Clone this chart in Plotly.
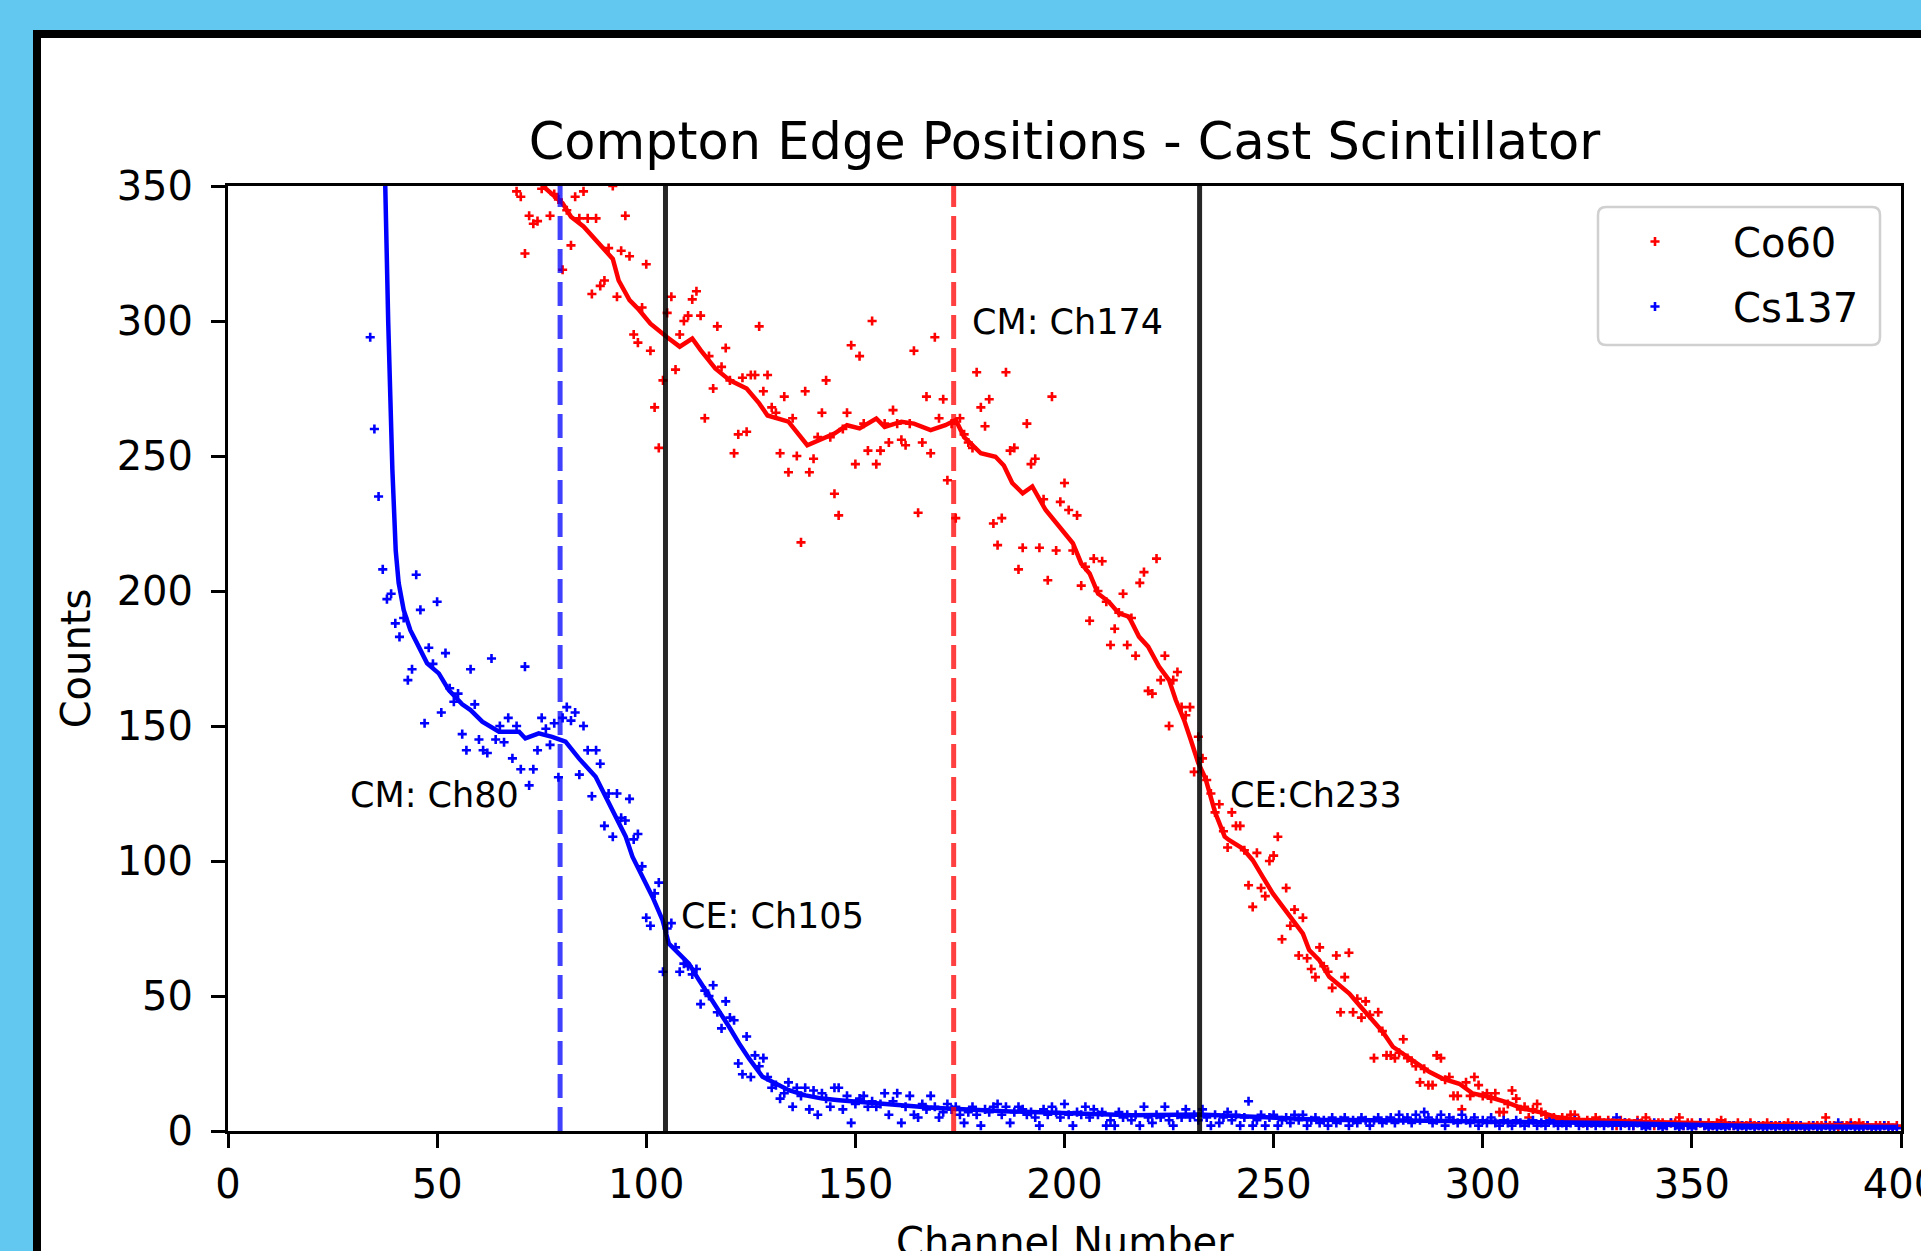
import plotly.graph_objects as go

# ---------------- data ----------------
co60_channels = list(range(69, 400))
co60_counts = [
    348, 346, 325, 339, 336, 337, 349, 351, 339, 347,
    345, 319, 341, 328, 346, 338, 348, 338, 310, 338,
    313, 315, 327, 350, 309, 326, 339, 324, 295, 292,
    305, 321, 289, 268, 253, 278, 303, 309, 282, 295,
    300, 302, 308, 311, 302, 264, 287, 275, 298, 283,
    290, 278, 251, 258, 279, 259, 280, 280, 298, 274,
    280, 268, 266, 251, 272, 244, 264, 250, 218, 274,
    244, 249, 257, 266, 278, 257, 236, 228, 260, 266,
    291, 247, 287, 262, 252, 300, 247, 252, 262, 255,
    267, 262, 256, 254, 262, 289, 229, 255, 272, 251,
    294, 264, 271, 241, 262, 227, 264, 258, 255, 253,
    281, 268, 261, 271, 225, 217, 227, 281, 252, 253,
    208, 216, 262, 247, 249, 216, 234, 204, 272, 215,
    233, 240, 230, 215, 228, 202, 209, 189, 212, 200,
    211, 196, 180, 186, 192, 199, 180, 190, 176, 203,
    207, 163, 162, 212, 167, 176, 150, 167, 170, 157,
    154, 157, 133, 146, 138, 130, 125, 118, 121, 111,
    105, 118, 113, 113, 104, 91, 83, 103, 90, 87,
    100, 102, 109, 71, 90, 76, 82, 65, 79, 64,
    60, 57, 68, 61, 59, 53, 65, 44, 57, 66,
    44, 49, 42, 48, 43, 27, 44, 37, 28, 28,
    27, 29, 34, 27, 26, 24, 18, 23, 17, 17,
    28, 27, 19, 20, 13, 13, 8, 18, 13, 20,
    17, 13, 14, 12, 14, 7, 7, 10, 15, 12,
    8, 9, 5, 8, 10, 7, 6, 5, 5, 4,
    5, 4, 6, 6, 4, 3, 4, 3, 5, 4,
    3, 4, 3, 2, 4, 3, 3, 2, 4, 3,
    5, 3, 2, 3, 3, 2, 3, 3, 5, 2,
    3, 3, 2, 3, 2, 3, 2, 3, 4, 3,
    2, 2, 3, 2, 2, 3, 2, 2, 2, 3,
    2, 2, 2, 2, 3, 2, 2, 2, 1, 2,
    2, 2, 2, 5, 2, 2, 1, 2, 2, 3,
    2, 3, 2, 2, 1, 2, 2, 2, 2, 1, 2,
]

cs137_channels = list(range(34, 400))
cs137_counts = [
    294, 260, 235, 208, 197, 199, 188, 183, 190, 167,
    171, 206, 193, 151, 179, 173, 196, 155, 177, 164,
    159, 162, 147, 141, 171, 158, 145, 141, 140, 175,
    145, 150, 144, 153, 138, 150, 134, 172, 128, 134,
    141, 153, 149, 143, 151, 131, 153, 157, 152, 155,
    132, 150, 141, 124, 141, 136, 113, 125, 109, 125,
    116, 115, 123, 108, 110, 98, 79, 76, 88, 92,
    59, 75, 77, 68, 59, 62, 61, 58, 60, 47,
    52, 50, 54, 44, 38, 48, 42, 41, 25, 21,
    35, 20, 28, 24, 27, 20, 16, 17, 12, 14,
    18, 9, 16, 13, 16, 8, 15, 6, 14, 12,
    9, 16, 16, 8, 13, 3, 10, 12, 13, 9,
    11, 9, 10, 14, 6, 11, 14, 3, 9, 13,
    6, 5, 10, 8, 13, 9, 5, 7, 10, 8,
    9, 6, 3, 7, 9, 6, 2, 8, 7, 9,
    10, 6, 9, 3, 7, 9, 8, 6, 7, 5,
    2, 8, 6, 9, 7, 5, 10, 6, 2, 7,
    6, 9, 5, 8, 6, 7, 2, 4, 2, 7,
    5, 6, 4, 6, 2, 9, 5, 3, 6, 5,
    9, 4, 2, 6, 5, 8, 5, 6, 4, 8,
    5, 2, 6, 3, 5, 7, 4, 6, 2, 5,
    11, 2, 4, 6, 2, 5, 6, 2, 4, 5,
    3, 6, 4, 6, 2, 4, 5, 3, 4, 2,
    5, 3, 4, 5, 2, 4, 3, 5, 4, 2,
    4, 5, 3, 4, 5, 3, 6, 4, 5, 3,
    6, 4, 7, 5, 3, 4, 6, 2, 5, 4,
    3, 6, 4, 3, 5, 2, 4, 3, 5, 3,
    2, 4, 3, 2, 4, 3, 2, 3, 4, 2,
    3, 2, 4, 3, 2, 3, 2, 3, 4, 2,
    3, 2, 3, 2, 3, 2, 3, 2, 5, 2,
    3, 2, 2, 3, 2, 1, 2, 3, 2, 1,
    2, 3, 2, 1, 2, 2, 1, 2, 3, 2,
    1, 2, 1, 2, 1, 2, 2, 1, 2, 1,
    2, 1, 2, 1, 1, 2, 1, 2, 1, 1,
    2, 1, 2, 1, 1, 2, 1, 1, 2, 1,
    1, 3, 1, 1, 2, 1, 1, 1, 2, 1,
    1, 1, 2, 1, 1, 1,
]

co60_smooth_x = [74, 76, 80, 82, 85, 88, 92, 93.4, 96, 98, 101, 105, 108, 111, 113, 116.5,
                 120, 124, 127, 129, 134, 138.5, 142, 145, 148, 151, 155, 157, 161, 164,
                 168, 171.5, 174, 176, 180, 183.5, 185.5, 187.5, 190, 192.3, 195.5, 199.5,
                 202, 204, 206, 208, 210.6, 213, 215.4, 217.8, 220, 222.6, 225, 226.6,
                 228.6, 230.2, 232, 233.7, 236, 238.3, 239.4, 242.6, 245, 247.4, 249.8,
                 252.2, 254.6, 257, 258.5, 260.9, 263.3, 265.7, 268.1, 270.5, 272.9,
                 276.1, 278.5, 280.9, 284, 287.2, 290.4, 294.4, 297.6, 301.6, 305.6,
                 309.6, 313.6, 317.5, 323.1, 329.5, 339, 351, 364, 387, 399]
co60_smooth_y = [353, 349, 343.6, 338.6, 335, 330, 323, 315, 307.7, 304.6, 299, 294, 290.5,
                 293.5, 289.2, 282.4, 278, 275, 269.5, 265, 262.7, 254, 256.5, 258.3, 261.4,
                 260.2, 263.9, 260.8, 262.7, 262, 259.6, 261.4, 263.3, 257, 251, 249.7,
                 246.5, 240, 236.2, 238.7, 230, 222.6, 217.7, 210.2, 206.5, 199.1, 196,
                 191.7, 190.5, 183.1, 179.4, 172, 167, 159.6, 152.2, 144.8, 136.2, 130.6,
                 118, 109, 107.7, 104.6, 100.3, 94.1, 88, 83, 78.1, 73.1, 67, 63.3, 57.1,
                 54, 50.9, 46.6, 42.3, 36.7, 31.2, 28.7, 25, 21.9, 19.4, 17.5, 13.9, 12.6,
                 10.7, 8.3, 7, 5.2, 4.2, 3.7, 3.3, 3, 2.5, 2.1, 2]

cs137_smooth_x = [37.0, 37.3, 37.6, 38.3, 38.9, 39.3, 40.1, 40.8, 42, 43.6, 45.6, 47.6, 50.4,
                  52.8, 56, 58, 60.8, 64.8, 69.6, 71.1, 74.3, 77.5, 80.7, 83.9, 87.9, 90.3,
                  92.7, 95.1, 96.7, 99.1, 101.5, 103.9, 105.4, 107.8, 110.2, 112.6, 115,
                  117.4, 119.8, 122.2, 124.6, 127.8, 131, 134.1, 138.1, 142.1, 146.1,
                  152.4, 168.4, 184.3, 200.3, 216.2, 232.2, 248.1, 261.4, 286, 310, 330,
                  350, 370, 399]
cs137_smooth_y = [420, 380, 350, 300, 262, 245, 215, 203, 193, 185.5, 179.4, 173.2, 169.5,
                  163.3, 158, 155.9, 151.6, 147.9, 147.9, 145.4, 147.3, 146, 144.2, 138,
                  131.2, 123.8, 116.4, 109, 101.6, 94.1, 86.7, 78.1, 69.4, 65.7, 62, 55.9,
                  50.3, 44.7, 38.6, 32.4, 26.8, 20.1, 17.6, 15.1, 13.2, 12, 11.4, 10.7,
                  8.6, 7.4, 6.4, 5.8, 6.1, 5.2, 4.2, 3.8, 3.5, 3.0, 2.3, 1.8, 1.5]

# marked channels (vertical reference lines)
cm_cs137 = 79.4
ce_cs137 = 104.6
cm_co60 = 173.5
ce_co60 = 232.3

labels = ["CM: Ch80", "CE: Ch105", "CM: Ch174", "CE:Ch233"]
label_x = [28.6, 107.8, 177.3, 239.2]
label_y = [124.5, 79.5, 299.5, 124.5]

x_ticks = [0, 50, 100, 150, 200, 250, 300, 350, 400]
y_ticks = [0, 50, 100, 150, 200, 250, 300, 350]

# ---------------- figure ----------------
W, H = 1921, 1251
PL, PR, PT, PB = 228, 1901, 186, 1131  # plot area in pixels
FONT = "DejaVu Sans"


def px_x(p):
    return (p - PL) / (PR - PL)


def px_y(p):
    return (PB - p) / (PB - PT)


fig = go.Figure()

fig.add_trace(go.Scatter(
    x=co60_channels, y=co60_counts, mode="markers", name="Co60",
    legendgroup="co60",
    marker=dict(symbol="cross-thin", size=6.5, color="#ff0000",
                line=dict(color="#ff0000", width=2.6)),
))
fig.add_trace(go.Scatter(
    x=cs137_channels, y=cs137_counts, mode="markers", name="Cs137",
    legendgroup="cs137",
    marker=dict(symbol="cross-thin", size=6.5, color="#0000ff",
                line=dict(color="#0000ff", width=2.6)),
))
fig.add_trace(go.Scatter(
    x=co60_smooth_x, y=co60_smooth_y, mode="lines", showlegend=False,
    line=dict(color="#ff0000", width=4.5),
))
fig.add_trace(go.Scatter(
    x=cs137_smooth_x, y=cs137_smooth_y, mode="lines", showlegend=False,
    line=dict(color="#0000ff", width=4.5),
))

vlines = [
    (cm_cs137, "rgba(0,0,255,0.75)", "24px,9px"),
    (ce_cs137, "rgba(0,0,0,0.85)", "solid"),
    (cm_co60, "rgba(255,0,0,0.75)", "24px,9px"),
    (ce_co60, "rgba(0,0,0,0.85)", "solid"),
]
for xv, col, dash in vlines:
    fig.add_trace(go.Scatter(
        x=[xv, xv], y=[0, 350], mode="lines", showlegend=False, hoverinfo="skip",
        line=dict(color=col, width=5, dash=dash),
    ))

for txt, xv, yv in zip(labels, label_x, label_y):
    fig.add_annotation(
        x=xv, y=yv, xref="x", yref="y", text=txt, showarrow=False,
        xanchor="left", yanchor="middle",
        font=dict(family=FONT, size=35, color="black"),
    )

# x-axis label (placed like the reference, partly cut by the page bottom)
fig.add_annotation(
    x=0.5, y=px_y(1217), xref="paper", yref="paper", text="Channel Number",
    showarrow=False, xanchor="center", yanchor="top",
    font=dict(family=FONT, size=40, color="black"),
)

# outer black frame (white panel) on light-blue page
fig.add_shape(
    type="rect", xref="paper", yref="paper", layer="below",
    x0=px_x(37), x1=px_x(W + 40), y0=px_y(H + 40), y1=px_y(34),
    line=dict(color="black", width=8), fillcolor="white",
)

# legend frame with rounded corners
lx0, lx1, ly0, ly1, rr = 1598, 1880, 207, 345, 8
ax = lambda p: px_x(p)
ay = lambda p: px_y(p)
legend_path = (
    f"M {ax(lx0 + rr)},{ay(ly0)} L {ax(lx1 - rr)},{ay(ly0)} "
    f"Q {ax(lx1)},{ay(ly0)} {ax(lx1)},{ay(ly0 + rr)} "
    f"L {ax(lx1)},{ay(ly1 - rr)} Q {ax(lx1)},{ay(ly1)} {ax(lx1 - rr)},{ay(ly1)} "
    f"L {ax(lx0 + rr)},{ay(ly1)} Q {ax(lx0)},{ay(ly1)} {ax(lx0)},{ay(ly1 - rr)} "
    f"L {ax(lx0)},{ay(ly0 + rr)} Q {ax(lx0)},{ay(ly0)} {ax(lx0 + rr)},{ay(ly0)} Z"
)
fig.add_shape(
    type="path", path=legend_path, xref="paper", yref="paper", layer="above",
    line=dict(color="#d0d0d0", width=2.5), fillcolor="rgba(255,255,255,0.85)",
)

axis_common = dict(
    showgrid=False, zeroline=False, showline=True, linecolor="black",
    linewidth=3, mirror=True, ticks="outside", ticklen=14, tickwidth=3,
    tickcolor="black", tickfont=dict(family=FONT, size=40, color="black"),
    ticklabeloverflow="allow",
)

fig.update_xaxes(
    range=[0, 400], tickvals=x_ticks, ticktext=[str(v) for v in x_ticks],
    ticklabelstandoff=2,
    **axis_common,
)
fig.update_yaxes(
    range=[0, 350], tickvals=y_ticks, ticktext=[str(v) for v in y_ticks],
    title=dict(text="Counts", font=dict(family=FONT, size=40, color="black"),
               standoff=14),
    ticklabelstandoff=10,
    **axis_common,
)

fig.update_layout(
    width=W, height=H,
    margin=dict(l=PL, r=W - PR, t=PT, b=H - PB, pad=0, autoexpand=False),
    paper_bgcolor="#63c8f0",
    plot_bgcolor="white",
    font=dict(family=FONT, color="black", size=40),
    title=dict(
        text="Compton Edge Positions - Cast Scintillator",
        font=dict(family=FONT, size=51, color="black"),
        x=0.5, xref="paper", xanchor="center",
        y=1 - 141 / H, yref="container", yanchor="middle",
    ),
    showlegend=True,
    legend=dict(
        x=px_x(1577), xanchor="left", y=px_y(209), yanchor="top",
        bgcolor="rgba(0,0,0,0)", borderwidth=0,
        font=dict(family=FONT, size=40, color="black"),
        traceorder="grouped", tracegroupgap=10, itemwidth=146,
    ),
)

fig.write_html("out.html")
